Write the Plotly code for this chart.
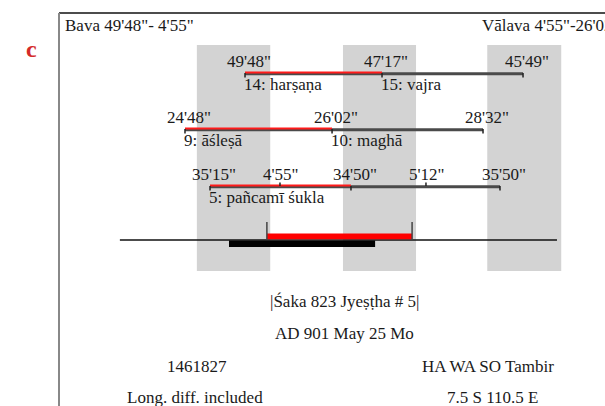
import plotly.graph_objects as go

# ---- data (hours from local midnight of AD 901 May 25) ----
night_start = [-5.3, 18.8, 42.6]
night_end = [6.8, 30.85, 54.8]
civil_day = [6.25, 30.2]          # sunrise to sunrise (red bar)
calendar_day = [0.0, 24.1]        # midnight to midnight (black bar)

yoga_times = [2.64, 25.24, 48.5]
yoga_labels = ["49'48\"", "47'17\"", "45'49\""]
yoga_names = ["14: harṣaṇa", "15: vajra"]

nak_times = [-7.26, 17.0, 41.9]
nak_labels = ["24'48\"", "26'02\"", "28'32\""]
nak_names = ["9: āśleṣā", "10: maghā"]

tithi_times = [-3.13, 20.12, 44.7]
tithi_labels = ["35'15\"", "34'50\"", "35'50\""]
tithi_names = ["5: pañcamī śukla"]
karana_times = [8.41, 32.49]
karana_labels = ["4'55\"", "5'12\""]

axis_span = [-18.0, 54.1]

header_left = "Bava 49'48\"- 4'55\""
header_right = "Vālava 4'55\"-26'02\""
info_lines = ["|Śaka 823 Jyeṣṭha # 5|", "AD 901 May 25 Mo"]
jd_text = "1461827"
place_text = "HA WA SO Tambir"
note_text = "Long. diff. included"
coord_text = "7.5 S 110.5 E"

# ---- layout helpers ----
W, H = 605, 406
PX0, PXH = 229.0, 6.0625   # pixel of hour 0 and pixels per hour
xr = [-PX0 / PXH, (W - PX0) / PXH]
FONT = "Liberation Serif"
FS = 17
TXT = "#1a1a1a"
LINE = "#4a4a4a"
RED = "#ff1a1a"

fig = go.Figure()
shapes = []
annotations = []

# night bands
for s, e in zip(night_start, night_end):
    shapes.append(dict(type="rect", xref="x", yref="y", x0=s, x1=e, y0=45, y1=271,
                       fillcolor="#d3d3d3", line_width=0, layer="below"))


def add_row(times, labels, names, y, mids=None, mid_labels=None):
    fig.add_trace(go.Scatter(x=[times[0], times[-1]], y=[y + 0.8, y + 0.8], mode="lines",
                             line=dict(color=LINE, width=3), hoverinfo="skip", showlegend=False))
    fig.add_trace(go.Scatter(x=[times[0], times[1]], y=[y - 0.6, y - 0.6], mode="lines",
                             line=dict(color=RED, width=2), hoverinfo="skip", showlegend=False))
    tx, ty = [], []
    for t in times:
        tx += [t, t, None]
        ty += [y, y + 4.5, None]
    if mids:
        for t in mids:
            tx += [t, t, None]
            ty += [y, y - 3.5, None]
    fig.add_trace(go.Scatter(x=tx, y=ty, mode="lines", line=dict(color="#222", width=1.5),
                             hoverinfo="skip", showlegend=False))
    for t, lab in zip(times, labels):
        annotations.append(dict(x=t, y=y - 12, xref="x", yref="y", text=lab, showarrow=False,
                                xanchor="center", yanchor="middle", xshift=4,
                                font=dict(family=FONT, size=FS, color=TXT)))
    if mids:
        for t, lab in zip(mids, mid_labels):
            annotations.append(dict(x=t, y=y - 12, xref="x", yref="y", text=lab, showarrow=False,
                                    xanchor="center", yanchor="middle", xshift=1,
                                    font=dict(family=FONT, size=FS, color=TXT)))
    for t, nm in zip(times, names):
        annotations.append(dict(x=t, y=y + 11, xref="x", yref="y", text=nm, showarrow=False,
                                xanchor="left", yanchor="middle", xshift=-3,
                                font=dict(family=FONT, size=FS, color=TXT)))


add_row(yoga_times, yoga_labels, yoga_names, 73)
add_row(nak_times, nak_labels, nak_names, 129)
add_row(tithi_times, tithi_labels, tithi_names, 186, karana_times, karana_labels)

fig.add_trace(go.Scatter(x=axis_span, y=[240, 240], mode="lines", line=dict(color="#111", width=1.5),
                         hoverinfo="skip", showlegend=False))
shapes.append(dict(type="rect", xref="x", yref="y", x0=calendar_day[0], x1=calendar_day[1], y0=240.5, y1=247,
                   fillcolor="#000", line_width=0))
shapes.append(dict(type="rect", xref="x", yref="y", x0=civil_day[0], x1=civil_day[1], y0=233.5, y1=239.3,
                   fillcolor="#ff0000", line_width=0))
for t in civil_day:
    shapes.append(dict(type="line", xref="x", yref="y", x0=t, x1=t, y0=222, y1=240,
                       line=dict(color="#444", width=1.5)))

# frame
shapes.append(dict(type="line", xref="paper", yref="y", x0=59 / W, x1=1, y0=13, y1=13,
                   line=dict(color="#111", width=1.5)))
shapes.append(dict(type="line", xref="paper", yref="y", x0=59 / W, x1=59 / W, y0=13, y1=H,
                   line=dict(color="#888", width=2)))


def ptext(txt, px, py, anchor="center", size=FS, color=TXT, bold=False):
    annotations.append(dict(x=px / W, y=py, xref="paper", yref="y", text=("<b>%s</b>" % txt) if bold else txt,
                            showarrow=False, xanchor=anchor, yanchor="middle",
                            font=dict(family=FONT, size=size, color=color)))


ptext("c", 31, 49, size=24, color="#d42a2a", bold=True)
ptext(header_left, 63, 25, anchor="left")
ptext(header_right, 480, 25, anchor="left")
ptext(info_lines[0], 344, 301)
ptext(info_lines[1], 344, 333)
ptext(jd_text, 197, 366)
ptext(place_text, 420, 366, anchor="left")
ptext(note_text, 195, 397)
ptext(coord_text, 492, 397)

fig.update_layout(
    width=W, height=H, autosize=False,
    margin=dict(l=0, r=0, t=0, b=0),
    paper_bgcolor="white", plot_bgcolor="white",
    xaxis=dict(range=xr, visible=False, fixedrange=True),
    yaxis=dict(range=[H, 0], visible=False, fixedrange=True),
    shapes=shapes, annotations=annotations, showlegend=False,
)

fig.write_html("out.html", config={"displayModeBar": False},
               post_script="document.body.style.margin='0';document.body.style.overflow='hidden';")
